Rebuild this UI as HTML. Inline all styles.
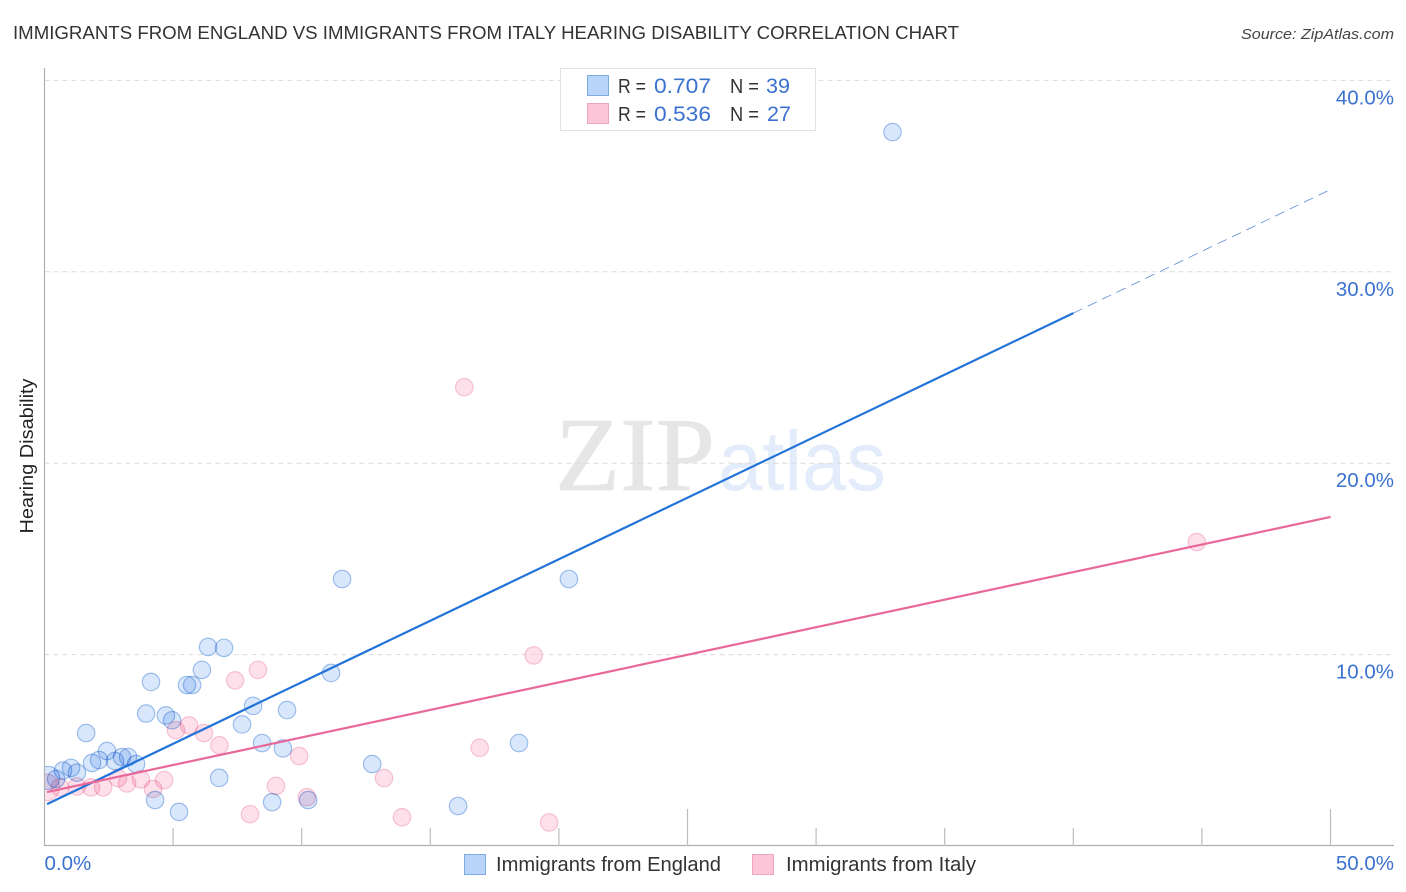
<!DOCTYPE html>
<html lang="en">
<head>
<meta charset="utf-8">
<title>Immigrants from England vs Immigrants from Italy Hearing Disability Correlation Chart</title>
<style>
html,body{margin:0;padding:0;background:#fff;}
svg{display:block;font-family:"Liberation Sans",sans-serif;}
#points circle{mix-blend-mode:multiply;}
</style>
</head>
<body>
<svg id="chart" xmlns="http://www.w3.org/2000/svg" width="1406" height="892" viewBox="0 0 1406 892">
  <defs><clipPath id="plot-clip"><rect x="45" y="60" width="1350" height="786"/></clipPath></defs>
  <text x="13" y="39" font-size="18.5" fill="#333" textLength="946" lengthAdjust="spacingAndGlyphs">IMMIGRANTS FROM ENGLAND VS IMMIGRANTS FROM ITALY HEARING DISABILITY CORRELATION CHART</text>
  <text x="1241" y="39" font-size="15" font-style="italic" fill="#444" textLength="153" lengthAdjust="spacingAndGlyphs">Source: ZipAtlas.com</text>
  <text transform="translate(33,456) rotate(-90)" text-anchor="middle" font-size="18" fill="#222" textLength="155" lengthAdjust="spacingAndGlyphs">Hearing Disability</text>
  <g id="watermark">
    <text x="555" y="490" font-family="'Liberation Serif',serif" font-size="105" fill="#e6e6e6" stroke="#e6e6e6" stroke-width="0.8" textLength="160" lengthAdjust="spacingAndGlyphs">ZIP</text>
    <text x="718" y="490" font-size="84" fill="#e3ecfb" textLength="168" lengthAdjust="spacingAndGlyphs">atlas</text>
  </g>
  <g id="grid"></g>
  <g id="axes"></g>
  <g id="points" clip-path="url(#plot-clip)"></g>
  <g id="trends"></g>
  <g id="tick-labels"></g>
  <g>
    <rect x="560.5" y="68.5" width="255" height="62" fill="#fff" stroke="#e2e2e2" stroke-width="1"/>
    <rect x="587.5" y="75.5" width="21" height="20" fill="#b8d4f8" stroke="#7fabe3" stroke-width="1"/>
    <rect x="587.5" y="103.5" width="21" height="20" fill="#fcc6d8" stroke="#f0a5bf" stroke-width="1"/>
    <text x="618" y="93" font-size="20" fill="#333" textLength="28" lengthAdjust="spacingAndGlyphs">R =</text>
    <text x="654" y="93" font-size="21" fill="#3b72d0" textLength="57" lengthAdjust="spacingAndGlyphs">0.707</text>
    <text x="730" y="93" font-size="20" fill="#333" textLength="29" lengthAdjust="spacingAndGlyphs">N =</text>
    <text x="766" y="93" font-size="21" fill="#3b72d0" textLength="24" lengthAdjust="spacingAndGlyphs">39</text>
    <text x="618" y="121" font-size="20" fill="#333" textLength="28" lengthAdjust="spacingAndGlyphs">R =</text>
    <text x="654" y="121" font-size="21" fill="#3b72d0" textLength="57" lengthAdjust="spacingAndGlyphs">0.536</text>
    <text x="730" y="121" font-size="20" fill="#333" textLength="29" lengthAdjust="spacingAndGlyphs">N =</text>
    <text x="767" y="121" font-size="21" fill="#3b72d0" textLength="24" lengthAdjust="spacingAndGlyphs">27</text>
  </g>
  <g>
    <rect x="464.5" y="854.5" width="21" height="20" fill="#b8d4f8" stroke="#7fabe3" stroke-width="1"/>
    <text x="496" y="871" font-size="20" fill="#333" textLength="225" lengthAdjust="spacingAndGlyphs">Immigrants from England</text>
    <rect x="752.5" y="854.5" width="21" height="20" fill="#fcc6d8" stroke="#f0a5bf" stroke-width="1"/>
    <text x="786" y="871" font-size="20" fill="#333" textLength="190" lengthAdjust="spacingAndGlyphs">Immigrants from Italy</text>
  </g>
</svg>
<script>
const englandX = [0.14,0.45,0.72,1.03,1.26,1.85,1.62,2.12,2.43,2.74,3.01,3.25,3.56,3.95,4.14,4.3,4.72,4.96,5.23,5.54,5.74,6.12,6.36,6.98,6.79,7.68,8.11,8.46,8.85,9.27,9.43,10.25,11.14,11.57,12.74,16.08,18.45,20.39,32.97];
const englandY = [3.56,3.5,3.94,4.08,3.83,4.34,5.9,4.49,4.96,4.44,4.65,4.65,4.28,6.92,8.57,2.4,6.82,6.57,1.78,8.41,8.41,9.2,10.4,10.35,3.56,6.35,7.32,5.38,2.29,5.1,7.1,2.4,9.04,13.95,4.28,2.09,5.38,13.95,37.3];
const englandR = [12,9.2,9.2,9.2,9.2,9.2,9.2,9.2,9.2,9.2,9.2,9.2,9.2,9.2,9.2,9.2,9.2,9.2,9.2,9.2,9.2,9.2,9.2,9.2,9.2,9.2,9.2,9.2,9.2,9.2,9.2,9.2,9.2,9.2,9.2,9.2,9.2,9.2,9.2];
const italyX = [0.06,0.6,1.26,1.81,2.28,2.86,3.21,3.75,4.22,4.65,5.11,5.62,6.2,6.8,7.41,7.99,8.3,9.0,9.9,10.2,13.2,13.9,16.32,16.92,19.02,19.62,44.8];
const italyY = [3.06,3.06,3.11,3.06,3.06,3.55,3.27,3.48,2.98,3.44,6.05,6.3,5.9,5.26,8.65,1.66,9.2,3.14,4.7,2.55,3.55,1.5,23.97,5.13,9.96,1.23,15.88];
const italyR = [14,9.2,9.2,9.2,9.2,9.2,9.2,9.2,9.2,9.2,9.2,9.2,9.2,9.2,9.2,9.2,9.2,9.2,9.2,9.2,9.2,9.2,9.2,9.2,9.2,9.2,9.2];
const englandTrendX = [0.1,40];
const englandTrendY = [2.19,27.84];
const englandDashX = [40,50];
const englandDashY = [27.84,34.3];
const italyTrendX = [0.1,50];
const italyTrendY = [2.82,17.19];
const xTicks = [0,5,10,15,20,25,30,35,40,45,50];
const majorXTicks = [25,50];
const yTicks = [10,20,30,40];
const yTickLabels = ["10.0%","20.0%","30.0%","40.0%"];
const xEndTicks = [0,50];
const xEndLabels = ["0.0%","50.0%"];

const NS = 'http://www.w3.org/2000/svg';
function xScale(v){ return 44.5 + v * 25.72; }
function yScale(v){ return 846 - v * 19.14; }
function make(tag, attrs, parent){
  const el = document.createElementNS(NS, tag);
  Object.keys(attrs).forEach(k => el.setAttribute(k, attrs[k]));
  parent.appendChild(el);
  return el;
}
const gridG = document.getElementById('grid');
const axesG = document.getElementById('axes');
const pointsG = document.getElementById('points');
const trendsG = document.getElementById('trends');
const labelsG = document.getElementById('tick-labels');

yTicks.forEach((t) => {
  const el = make('line', {x1:44.5, x2:1394, y1:yScale(t), y2:yScale(t), stroke:'#dcdcdc', 'stroke-width':1, 'stroke-dasharray':'5 4'}, gridG);
  
  
});

const yAxis = make('line', {x1:44.5, x2:44.5, y1:68, y2:846, stroke:'#b0b0b0', 'stroke-width':1.2}, axesG);


const xAxis = make('line', {x1:44, x2:1394, y1:845.5, y2:845.5, stroke:'#b0b0b0', 'stroke-width':1.2}, axesG);


xTicks.forEach((t) => {
  if (t === 0) return;
  const top = majorXTicks.includes(t) ? 809 : 828;
  const el = make('line', {x1:xScale(t), x2:xScale(t), y1:top, y2:846, stroke:'#bdbdbd', 'stroke-width':1.2}, axesG);
  
  
});

function drawPoints(xs, ys, rs, fill, stroke, name){
  xs.forEach((x, i) => {
    const c = make('circle', {cx:xScale(x), cy:yScale(ys[i]), r:rs[i] - 0.5, fill:fill, 'fill-opacity':0.55, stroke:stroke, 'stroke-opacity':0.8, 'stroke-width':1.2}, pointsG);
    
    
  });
}
drawPoints(englandX, englandY, englandR, '#b8d4f8', '#86aee6', 'england-point');
drawPoints(italyX, italyY, italyR, '#fcc6d8', '#f4b3cb', 'italy-point');

const dash = make('line', {x1:xScale(englandDashX[0]), y1:yScale(englandDashY[0]), x2:xScale(englandDashX[1]), y2:yScale(englandDashY[1]), stroke:'#5b8bd6', 'stroke-width':0.8, 'stroke-dasharray':'10 6'}, trendsG);


const tb = make('line', {x1:xScale(englandTrendX[0]), y1:yScale(englandTrendY[0]), x2:xScale(englandTrendX[1]), y2:yScale(englandTrendY[1]), stroke:'#2273d8', 'stroke-width':2.2}, trendsG);


const tp = make('line', {x1:xScale(italyTrendX[0]), y1:yScale(italyTrendY[0]), x2:xScale(italyTrendX[1]), y2:yScale(italyTrendY[1]), stroke:'#e8689a', 'stroke-width':2.2}, trendsG);



yTicks.forEach((t, i) => {
  const el = make('text', {x:1394, y:yScale(t) + 24, 'text-anchor':'end', 'font-size':20.5, fill:'#3b72d0'}, labelsG);
  el.textContent = yTickLabels[i];
  
  
});
xEndTicks.forEach((t, i) => {
  const el = make('text', {x: i === 0 ? xScale(t) : 1394, y:870, 'text-anchor': i === 0 ? 'start' : 'end', 'font-size':20.5, fill:'#3b72d0'}, labelsG);
  el.textContent = xEndLabels[i];
  
  
});
</script>
</body>
</html>
